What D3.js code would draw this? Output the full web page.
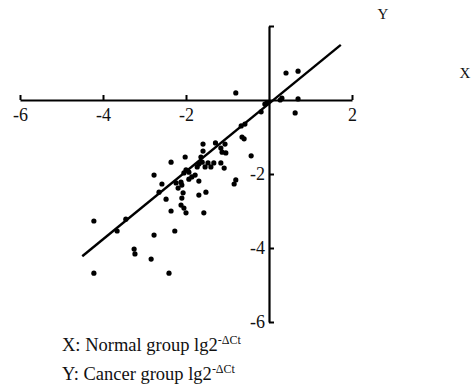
<!DOCTYPE html>
<html><head><meta charset="utf-8">
<script src="https://cdn.jsdelivr.net/npm/d3@7"></script>
<style>
html,body{margin:0;padding:0;background:#fff;}
svg{display:block;}
svg text{font-family:"Times New Roman",Times,"Liberation Serif","DejaVu Serif",serif !important;}
</style></head>
<body><svg id="c" width="476" height="389"></svg>
<script>
const xTicks = [-6, -4, -2, 2];
const yTicks = [2, -2, -4, -6];
const xDomain = [-6, 2];
const yDomain = [-6, 2];
const normalX = [-0.80,0.41,0.70,0.70,0.63,-0.10,-0.05,0.27,0.31,-0.19,-0.67,-0.58,-0.65,-0.60,-0.43,-0.80,-0.84,
 -1.59,-1.29,-1.06,-1.59,-1.16,-1.13,-1.04,-2.02,-2.36,-1.64,-1.61,-1.69,-1.73,-1.47,-1.40,-1.16,-1.08,-2.77,
 -2.00,-1.93,-2.05,-1.86,-1.78,-1.93,-1.69,-2.58,-2.12,-2.24,-2.10,-2.19,-2.65,-2.07,-2.48,-2.10,-1.69,-1.52,
 -2.12,-2.05,-2.00,-2.36,-1.57,-2.27,-4.22,-3.45,-3.66,-3.25,-3.23,-2.77,-2.84,-4.22,-2.41,-1.54,-1.33];
const cancerY = [0.19,0.73,0.78,0.03,-0.35,-0.11,-0.08,0.00,0.05,-0.32,-0.70,-0.65,-1.00,-1.05,-1.51,-2.16,-2.27,
 -1.19,-1.16,-1.19,-1.38,-1.30,-1.41,-1.43,-1.54,-1.68,-1.54,-1.68,-1.73,-1.81,-1.70,-1.81,-1.70,-1.84,-2.03,
 -1.89,-1.95,-1.97,-2.08,-2.03,-2.14,-2.19,-2.27,-2.22,-2.24,-2.30,-2.38,-2.49,-2.51,-2.68,-2.65,-2.57,-2.49,
 -2.84,-2.92,-3.05,-3.00,-3.05,-3.54,-3.27,-3.22,-3.54,-4.03,-4.16,-3.65,-4.30,-4.68,-4.68,-1.81,-1.70];
const fitSlope = 0.917;
const fitIntercept = -0.096;
const fitRange = [-4.5, 1.73];

const svg = d3.select("#c");
const x = d3.scaleLinear().domain(xDomain).range([20, 352]);
const y = d3.scaleLinear().domain(yDomain).range([322, 26]);

// X axis
const xa = svg.append("g").attr("transform", `translate(0,${y(0)})`)
  .call(d3.axisBottom(x).tickValues(xTicks).tickSizeInner(-5).tickSizeOuter(0).tickPadding(8).tickFormat(d => String(d)));
xa.select(".domain").attr("stroke-width", 2.2);
xa.selectAll(".tick line").attr("stroke-width", 2);
xa.selectAll("text").attr("font-size", 18).attr("fill", "#111");

// Y axis
const ya = svg.append("g").attr("transform", `translate(${x(0)},0)`)
  .call(d3.axisLeft(y).tickValues(yTicks).tickSizeInner(-5).tickSizeOuter(0).tickPadding(4).tickFormat(d => d === 2 ? "" : String(d)));
ya.select(".domain").attr("stroke-width", 2.2);
ya.selectAll(".tick line").attr("stroke-width", 2);
ya.selectAll("text").attr("font-size", 18).attr("fill", "#111");

// Regression line
svg.append("line")
  .attr("x1", x(fitRange[0])).attr("y1", y(fitSlope * fitRange[0] + fitIntercept))
  .attr("x2", x(fitRange[1])).attr("y2", y(fitSlope * fitRange[1] + fitIntercept))
  .attr("stroke", "#000").attr("stroke-width", 2.4);

// Points
svg.append("g").selectAll("circle").data(normalX.map((v, i) => [v, cancerY[i]]))
  .join("circle").attr("cx", d => x(d[0])).attr("cy", d => y(d[1])).attr("r", 2.6).attr("fill", "#000");

// Axis name labels
svg.append("text").attr("x", 383).attr("y", 19).attr("text-anchor", "middle").attr("font-size", 15).attr("fill", "#111").text("Y");
svg.append("text").attr("x", 465).attr("y", 78).attr("text-anchor", "middle").attr("font-size", 15).attr("fill", "#111").text("X");

// Legend texts
const leg = [["X: Normal group lg2", 351], ["Y: Cancer group lg2", 380]];
leg.forEach(([t, yy]) => {
  const tx = svg.append("text").attr("x", 62).attr("y", yy).attr("font-size", 18.5).attr("fill", "#111");
  tx.append("tspan").text(t);
  tx.append("tspan").attr("dy", -7.5).attr("font-size", 12).text("-\u0394Ct");
});
</script></body></html>
